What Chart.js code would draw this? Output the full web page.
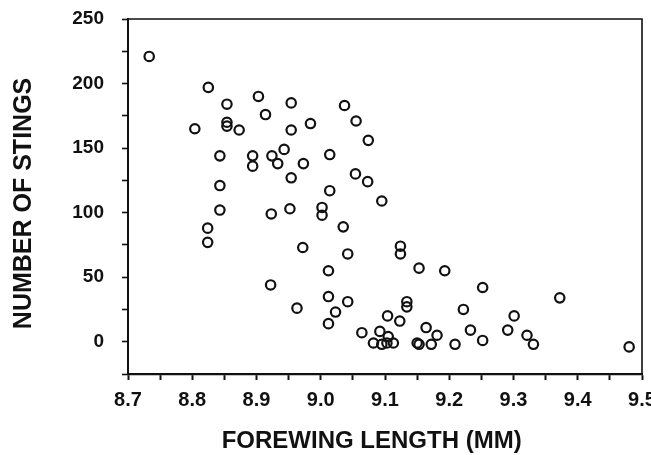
<!DOCTYPE html>
<html>
<head>
<meta charset="utf-8">
<script src="https://cdn.jsdelivr.net/npm/chart.js@4"></script>
<style>
  html, body { margin: 0; padding: 0; background: #fff; }
</style>
</head>
<body>
<canvas id="grafico" width="651" height="455"></canvas>
<script>
// comprimento da asa (mm) e numero de ferroadas
const forewing = [
  8.733, 8.825, 8.854, 8.903, 8.954, 8.914, 9.037, 9.055, 9.074, 8.804,
  8.854, 8.854, 8.873, 8.954, 8.984, 8.843, 8.894, 8.894, 8.924, 8.933,
  8.943, 8.973, 9.014, 8.954, 8.843, 9.054, 9.073, 9.014, 9.095, 8.843,
  8.824, 8.824, 8.923, 8.952, 9.002, 9.002, 9.035, 8.972, 9.042, 9.012,
  8.922, 9.012, 9.042, 9.023, 8.963, 9.012, 9.064, 9.082, 9.092, 9.124,
  9.124, 9.153, 9.193, 9.252, 9.372, 9.134, 9.134, 9.104, 9.123, 9.222,
  9.301, 9.164, 9.233, 9.291, 9.321, 9.181, 9.252, 9.331, 9.480, 9.105,
  9.095, 9.103, 9.113, 9.150, 9.153, 9.172, 9.209
];
const stings = [
  221, 197, 184, 190, 185, 176, 183, 171, 156, 165,
  170, 167, 164, 164, 169, 144, 144, 136, 144, 138,
  149, 138, 145, 127, 121, 130, 124, 117, 109, 102,
  88, 77, 99, 103, 104, 98, 89, 73, 68, 55,
  44, 35, 31, 23, 26, 14, 7, -1, 8, 74,
  68, 57, 55, 42, 34, 31, 27, 20, 16, 25,
  20, 11, 9, 9, 5, 5, 1, -2, -4, 4,
  -2, -1, -1, -1, -2, -2, -2
];
const xTicks = { min: 8.7, max: 9.5, step: 0.05 };
const yTicks = { min: -25, max: 250, step: 25 };

const pontos = [];
for (let i = 0; i < forewing.length; i++) {
  pontos.push({ x: forewing[i], y: stings[i] });
}

const fonte = "'Liberation Sans', Arial, Helvetica, sans-serif";
const nbsp = "\u00A0";

// moldura em cima e na direita
const moldura = {
  id: "moldura",
  afterDraw(chart) {
    const { ctx, chartArea } = chart;
    ctx.save();
    ctx.strokeStyle = "#111";
    ctx.lineWidth = 1.6;
    ctx.beginPath();
    ctx.moveTo(chartArea.left, chartArea.top);
    ctx.lineTo(chartArea.right, chartArea.top);
    ctx.lineTo(chartArea.right, chartArea.bottom);
    ctx.stroke();
    ctx.restore();
  },
};

const dados = {
  datasets: [
    {
      label: "Stings",
      data: pontos,
      pointStyle: "circle",
      pointRadius: 4.7,
      pointHoverRadius: 4.7,
      borderWidth: 2.2,
      borderColor: "#111",
      backgroundColor: "rgba(0,0,0,0)",
    },
  ],
};

const config = {
  type: "scatter",
  data: dados,
  options: {
    responsive: false,
    animation: false,
    events: [],
    layout: { padding: { top: 19, right: 9, left: 0, bottom: 0 } },
    plugins: { legend: { display: false }, tooltip: { enabled: false } },
    scales: {
      x: {
        type: "linear",
        min: xTicks.min,
        max: xTicks.max,
        afterFit(scale) {
          scale.height = 81;
          scale.paddingRight = 0;
          scale.paddingLeft = 0;
        },
        border: { display: true, color: "#111", width: 2.2 },
        grid: { drawOnChartArea: false, drawTicks: true, tickLength: 6, tickWidth: 2, tickColor: "#111" },
        ticks: {
          stepSize: xTicks.step,
          autoSkip: false,
          maxRotation: 0,
          padding: 8,
          color: "#111",
          font: { family: fonte, size: 20, weight: "bold" },
          callback: (v, i) => (i % 2 === 0 ? v.toFixed(1) : ""),
        },
        title: {
          display: true,
          text: "FOREWING LENGTH (MM)" + nbsp.repeat(4),
          color: "#111",
          font: { family: fonte, size: 24, weight: "bold", lineHeight: 1 },
          padding: { top: 0, bottom: 2 },
        },
      },
      y: {
        type: "linear",
        min: yTicks.min,
        max: yTicks.max,
        afterFit(scale) {
          scale.width = 128;
          scale.paddingTop = 0;
          scale.paddingBottom = 0;
        },
        border: { display: true, color: "#111", width: 2 },
        grid: { drawOnChartArea: false, drawTicks: true, tickLength: 6, tickWidth: 1.6, tickColor: "#111" },
        ticks: {
          stepSize: yTicks.step,
          autoSkip: false,
          padding: 18,
          color: "#111",
          font: { family: fonte, size: 19, weight: "bold" },
          callback: (v) => (v % 50 === 0 ? String(v) : ""),
        },
        title: {
          display: true,
          text: "NUMBER OF STINGS" + nbsp.repeat(2),
          color: "#111",
          font: { family: fonte, size: 25, weight: "bold", lineHeight: 1 },
          padding: { top: 12, bottom: 0 },
        },
      },
    },
  },
  plugins: [moldura],
};

const grafico = new Chart(document.getElementById("grafico").getContext("2d"), config);
</script>
</body>
</html>
